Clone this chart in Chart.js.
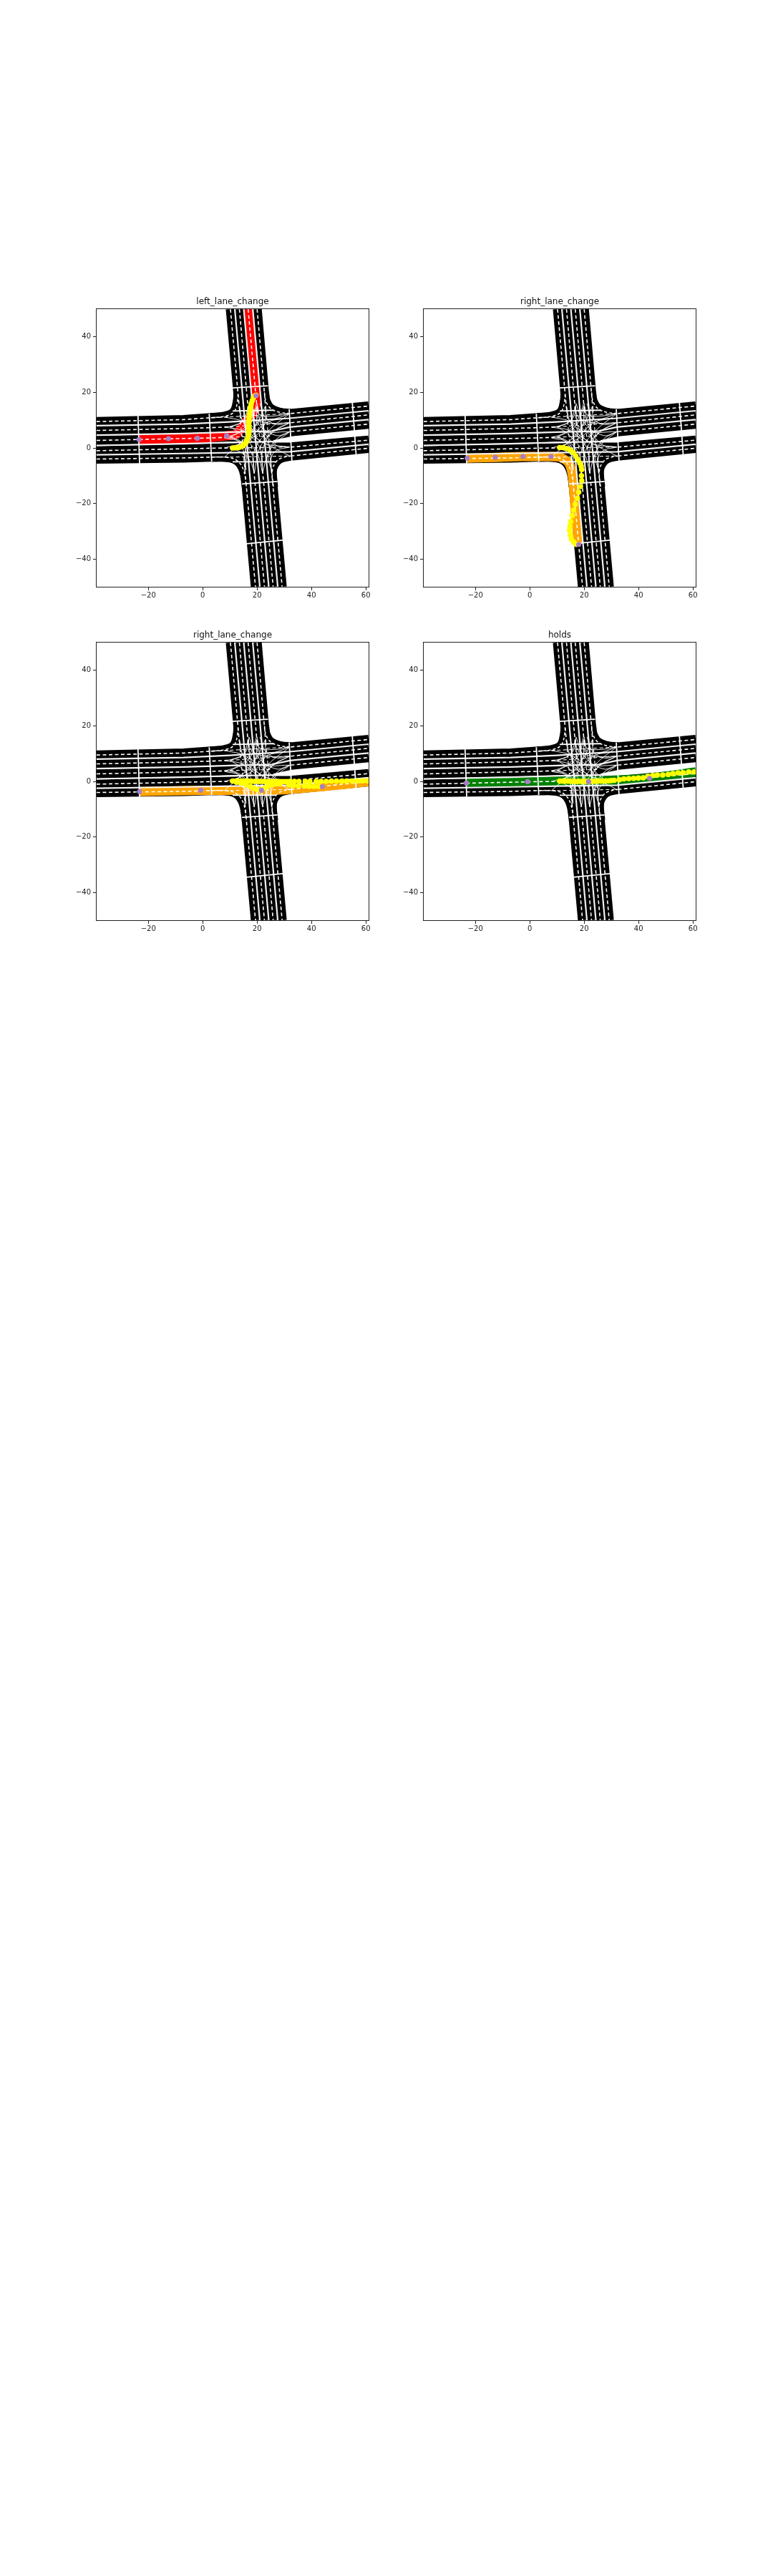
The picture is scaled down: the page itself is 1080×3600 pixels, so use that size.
<!DOCTYPE html>
<html lang="en">
<head>
  <meta charset="UTF-8" />
  <title>Intersection trajectories</title>
  <script src="https://cdn.jsdelivr.net/npm/chart.js"></script>
  <style>
    html, body { margin: 0; background: #fff; }
    body { position: relative; width: 1080px; height: 3600px; overflow: hidden; }
    canvas { position: absolute; }
  </style>
</head>
<body>
  <canvas id="panel0" width="480" height="440" style="left:85px;top:410px"></canvas>
  <canvas id="panel1" width="480" height="440" style="left:542px;top:410px"></canvas>
  <canvas id="panel2" width="480" height="440" style="left:85px;top:876px"></canvas>
  <canvas id="panel3" width="480" height="440" style="left:542px;top:876px"></canvas>

  <script>
    // Axis ticks
    const xTickValues = [-20, 0, 20, 40, 60];
    const yTickValues = [-40, -20, 0, 20, 40];
    const titles = ['left_lane_change', 'right_lane_change', 'right_lane_change', 'holds'];

    // West arm lane centres
    const west1 = [[-39, 9.5], [-7, 10.2], [3, 10.9], [10, 11.2]];
    const west2 = [[-39, 6.3], [-7, 7], [3, 7.3], [10, 7.6]];
    const west3 = [[-39, 2.7], [-7, 3.4], [3, 3.6], [10, 3.9]];
    const west4 = [[-39, -1], [-7, -0.3], [3, -0.1], [10, 0]];
    const west5 = [[-39, -4], [-7, -3.6], [3, -3.3], [10, -3.3]];

    // East arm lane centres
    const east1 = [[32.4, 12.4], [61, 15.1]];
    const east2 = [[32.4, 9.1], [61, 11.9]];
    const east3 = [[32.4, 5.85], [61, 8.6]];
    const east4 = [[32.4, 0.3], [61, 2.8]];
    const east5 = [[32.4, -2.9], [61, -0.1]];

    // North arm lane centres
    const north1 = [[10.2, 50], [13.5, 14]];
    const north2 = [[13.5, 50], [16.7, 14]];
    const north3 = [[16.7, 50], [20, 14]];
    const north4 = [[20, 50], [23.2, 14]];

    // South arm lane centres
    const south1 = [[15.5, -8], [19.4, -50]];
    const south2 = [[18.8, -8], [22.7, -50]];
    const south3 = [[22, -8], [25.9, -50]];
    const south4 = [[25.3, -8], [29.2, -50]];

    // Corner lanes
    const cornerNW = [[3, 10.9], [8, 11.4], [11.5, 13], [12.8, 17], [13, 20]];
    const cornerNE = [[22.7, 20], [23.2, 17], [25, 14.2], [28.5, 12.8], [32.4, 12.4]];
    const cornerSW = [[3, -3.3], [9, -3.4], [12.7, -4.6], [15, -8], [16.1, -14]];
    const cornerSE = [[26, -14], [25.6, -8], [27, -5], [29, -3.6], [32.4, -2.9]];

    // Solid lines between lanes
    const sepEW1 = [[-39, 8], [-7, 8.6], [10, 9.4], [32, 10.7], [61, 13.4]];
    const sepEW2 = [[-39, 4.6], [-7, 5.2], [10, 5.7], [25, 6], [32, 7.5], [61, 10.2]];
    const sepEW3 = [[-39, 0.9], [-7, 1.5], [10, 2], [26, 2.3]];
    const sepEW4 = [[-39, -2.5], [-7, -2], [10, -1.7], [32, -1.4], [61, 1.3]];
    const sepNS1 = [[11.8, 50], [21, -50]];
    const sepNS2 = [[15.1, 50], [24.3, -50]];
    const sepNS3 = [[18.4, 50], [27.6, -50]];

    // Lines across the roads
    const crossW1 = [[-23.8, 11.8], [-23.2, -5.6]];
    const crossW2 = [[2.4, 12.3], [3.3, -4.9]];
    const crossE1 = [[31.8, 14], [32.8, -4.7]];
    const crossE2 = [[55, 16.5], [56.4, -2.3]];
    const crossN1 = [[11, 21.6], [24, 22.4]];
    const crossS1 = [[14.4, -13], [27.5, -12.1]];
    const crossS2 = [[16.1, -34.5], [29.5, -33.2]];
    const innerTop = [[11, 13.3], [26, 13.6]];
    const innerBottom = [[11, -5], [27, -5]];

    // Turning paths inside the junction
    const turns = [
      [[10, 7.6], [14, 9], [16.5, 12], [17, 16]],
      [[10, 3.9], [14, 6], [18, 11], [19.8, 16]],
      [[10, 0], [14, 2], [20, 9], [23, 15]],
      [[10, 3.9], [13, 2.5], [15, -1], [16, -8]],
      [[10, 0], [13, -1], [17, -4], [19, -9]],
      [[10, 7.6], [14, 5], [20, -2], [22, -9]],
      [[32, 9.1], [27, 8.5], [23, 11], [21, 16]],
      [[32, 5.85], [27, 4.5], [20, 9], [17, 16]],
      [[32, 0.3], [27, 1], [22, 7], [20, 16]],
      [[32, 0.3], [27, -1], [25, -4], [25.3, -9]],
      [[32, 5.85], [27, 3], [24, -2], [22, -9]],
      [[32, 9.1], [26, 6], [21, 0], [19, -9]],
      [[13.5, 15], [15, 9], [19, 4], [32, -2.9]],
      [[16.7, 15], [18, 7], [22, 2], [32, 0.3]],
      [[20, 15], [19, 7], [14, 2], [8, -3.3]],
      [[23.2, 15], [22, 7], [15, 2], [8, 0]],
      [[15.5, -8], [16, -2], [14, 2], [8, 3.6]],
      [[18.8, -8], [18, -2], [13, 3], [8, 3.8]],
      [[22, -8], [21, 0], [15, 6], [8, 7.5]],
      [[25.3, -8], [24, 2], [16, 9], [8, 11.2]],
      [[25.3, -8], [24, -3], [26, 1], [32, 5.85]],
      [[22, -8], [22, -1], [25, 5], [32, 9.1]],
      [[18.8, -8], [19, -1], [24, 6], [32, 12.4]],
      [[15.5, -8], [16, 0], [22, 8], [32, 12.4]],
      [[13.5, 15], [14.5, 10], [20, 6], [32, 5.85]],
      [[16.7, 15], [18, 11], [24, 9], [32, 9.1]],
      [[20, 15], [21, 12], [26, 11.5], [32, 12.4]],
      [[16.7, 15], [15, 10], [11, 8], [8, 7.5]],
      [[20, 15], [17, 8], [12, 5], [8, 3.8]]
    ];

    // Dashes carried through the junction
    const innerDashes = [
      [[13.5, 14], [15.5, -8]], [[16.7, 14], [18.8, -8]], [[20, 14], [22, -8]], [[23.2, 14], [25.3, -8]],
      [[10, 11.2], [32.4, 12.4]], [[10, 7.6], [32.4, 9.1]], [[10, 3.9], [25, 4.3]], [[10, 0], [32.4, 0.3]], [[10, -3.3], [32.4, -2.9]]
    ];

    // Reference routes
    const route0 = [[-23.5, 3], [-12.6, 3.3], [-2, 3.5], [8.8, 4.4], [12.4, 5], [14, 6.8], [16, 9.5], [18.5, 12.5], [19.6, 16], [19.6, 18.8], [19.3, 22], [17, 50]];
    const route1 = [[-23, -3.7], [-12.7, -3.4], [-2.5, -3.1], [7.8, -3.1], [11, -3.3], [14, -5], [15.3, -8], [16, -13], [16.9, -25], [18, -34.5]];
    const route2 = [[-23.2, -3.7], [-0.7, -3.2], [21.6, -3.2], [30, -3], [44, -1.9], [61, -0.1]];
    const route3 = [[-23.3, -0.3], [-0.8, 0], [21.6, 0.1], [30, 0.4], [44, 1.2], [61, 3.4]];

    // Ground truth waypoints (purple)
    const way0 = [[-23.4, 3], [-12.6, 3.3], [-2, 3.5], [8.8, 4.4], [19.6, 18.8]];
    const way1 = [[-23, -3.7], [-12.7, -3.4], [-2.5, -3.1], [7.8, -3.1], [18, -34.8]];
    const way2 = [[-23.2, -3.7], [-0.7, -3.2], [21.6, -3.2], [44, -1.9]];
    const way3 = [[-23.3, -0.6], [-0.8, -0.1], [21.6, -0.1], [44, 1.1]];

    // Predicted points (yellow)
    const pred0 = [[11, 0], [11.8, 0], [12.6, 0.1], [13.4, 0.2], [14.2, 0.5], [14.9, 0.9], [15.5, 1.5], [16, 2.2], [16.4, 3], [16.7, 4], [16.9, 5], [17, 6], [17, 7], [17, 8], [17, 9], [17, 10], [17.1, 11], [17.2, 12], [17.3, 13], [17.5, 14], [17.7, 15], [17.9, 16], [18.2, 17], [18.6, 18], [19.1, 18.7], [19.6, 19]];
    const pred1 = [[11, 0.1], [12.3, 0.1], [13.6, -0.2], [14.9, -0.8], [15.9, -1.6], [16.9, -2.9], [17.7, -4.2], [18.4, -5.5], [18.9, -6.6], [19.1, -7.8], [19, -10], [19.1, -11.8], [18.6, -13.9], [18, -15.9], [17.5, -18.2], [16.7, -20.3], [16.1, -22.4], [15.6, -24.4], [15.1, -26.5], [14.8, -28.2], [14.6, -29.7], [14.9, -31.4], [15.3, -32.9], [16.2, -34], [17.1, -34.7]];
    const pred2a = [[11, 0.1], [12, 0.1], [13, 0.1], [14, 0.1], [15, 0.1], [16, 0.1], [17, 0.1], [18, 0], [19, 0], [20, 0], [21, 0], [22, 0], [23, -0.1], [24, -0.1], [25, -0.1], [26, -0.1], [27, -0.1], [28, -0.1], [29, -0.1], [30, -0.1], [31, -0.1], [32, 0], [33.7, 0], [35.4, 0], [37.7, 0], [39.4, 0], [41.7, 0], [43.5, 0], [45.4, 0], [47.3, 0.1], [49.2, 0.1], [51.2, 0.1], [52.9, 0.1], [54.9, 0.1], [56.9, 0.2], [58.7, 0.2], [60.6, 0.2]];
    const pred2b = [[12.4, -0.3], [14.2, -0.7], [16, -1.2], [17.6, -1.9], [18.9, -2.5], [20.2, -3], [21.5, -3.1], [22.8, -2.4], [24.2, -1.6], [25.6, -1.2], [27, -0.9], [28.5, -0.8], [31.7, -1.2], [33.4, -1.5], [35.2, -1.6], [37.4, -1.6], [39.1, -1.8], [40.9, -1.8], [42.6, -1.8]];
    const pred3 = [[11, 0.1], [12, 0.1], [13, 0.1], [14, 0.1], [15, 0], [16, 0], [17, 0], [18, 0], [19, 0], [20, 0], [21, 0], [22, 0], [23, 0], [24, 0], [25, 0.1], [26, 0.1], [27, 0.1], [28, 0.2], [29, 0.2], [30, 0.3], [31, 0.4], [32.9, 0.6], [34.6, 0.9], [36.4, 1], [38.2, 1.1], [39.9, 1.2], [41.7, 1.3], [43.4, 1.8], [45.2, 2.1], [46.9, 2.3], [48.9, 2.3], [50.9, 2.5], [52.6, 2.8], [54.5, 3.1], [56.4, 3.1], [58.4, 3.4], [60.4, 3.4]];

    const routes = [route0, route1, route2, route3];
    const routeColors = ['#ff0000', '#ffa500', '#ffa500', '#008000'];
    const ways = [way0, way1, way2, way3];
    const preds = [[pred0], [pred1], [pred2a, pred2b], [pred3]];

    const xy = pts => pts.map(p => ({ x: p[0], y: p[1] }));

    function line(pts, color, width, extra) {
      return Object.assign({
        data: xy(pts), showLine: true, pointRadius: 0, borderColor: color,
        borderWidth: width, borderCapStyle: 'butt', fill: false, clip: 0
      }, extra || {});
    }

    function dots(pts, color, r) {
      return {
        data: xy(pts), showLine: false, pointRadius: r, pointBorderWidth: 0,
        backgroundColor: color, pointBackgroundColor: color, clip: 0
      };
    }

    function buildDatasets(i) {
      const LANE = 13;
      const layers = [];
      const through = [west1.concat(east1), west2.concat([[25, 8.1]], east2), west3.concat([[25, 4.3]], east3),
        west4.concat(east4), west5.concat(east5), north1.concat(south1), north2.concat(south2),
        north3.concat(south3), north4.concat(south4)];
      through.forEach(p => layers.push(line(p, '#000', LANE)));
      [cornerNW, cornerNE, cornerSW, cornerSE].forEach(p => layers.push(line(p, '#000', LANE, { tension: 0.4 })));

      layers.push(line(routes[i], routeColors[i], LANE, { tension: 0.25 }));

      [sepEW1, sepEW2, sepEW3, sepEW4, sepNS1, sepNS2, sepNS3].forEach(p => layers.push(line(p, '#f2f2f2', 2.2)));
      turns.forEach(p => layers.push(line(p, '#fff', 0.9, { tension: 0.4 })));
      [cornerNW, cornerNE, cornerSW, cornerSE].forEach(p => layers.push(line(p, '#fff', 1.5, { tension: 0.4, borderDash: [4, 3] })));
      innerDashes.forEach(p => layers.push(line(p, '#fff', 1.1, { borderDash: [5, 3.5] })));

      [west1, west2, west3, west4, west5, east1, east2, east3, east4, east5,
        north1, north2, north3, north4, south1, south2, south3, south4].forEach(p => {
        layers.push(line(p, '#fff', 1.6, { borderDash: [5, 3.5] }));
      });

      [crossW1, crossW2, crossE1, crossE2, crossN1, crossS1, crossS2, innerTop, innerBottom].forEach(p => {
        layers.push(line(p, '#fff', 1.8));
      });

      preds[i].forEach(p => layers.push(dots(p, '#ffff00', 3.8)));
      layers.push(dots(ways[i], '#a77fc7', 3.6));
      return layers.reverse(); // chart.js paints the first dataset last
    }

    const frame = {
      id: 'frame',
      afterDraw(chart) {
        const a = chart.chartArea, c = chart.ctx;
        c.save();
        c.strokeStyle = '#222';
        c.lineWidth = 1;
        c.strokeRect(a.left - 0.5, a.top - 0.5, a.right - a.left + 1, a.bottom - a.top + 1);
        c.restore();
      }
    };

    const minus = v => String(v).replace('-', '\u2212');

    function axis(min, max, values, pad, extra) {
      return Object.assign({
        type: 'linear', min, max,
        afterBuildTicks: s => { s.ticks = values.map(v => ({ value: v })); },
        grid: { drawOnChartArea: false, drawTicks: true, tickLength: 5, color: '#222' },
        border: { display: false },
        ticks: {
          autoSkip: false, maxRotation: 0, padding: pad, color: '#222',
          font: { family: '"DejaVu Sans"', size: 10 },
          callback: minus
        }
      }, extra);
    }

    titles.forEach((title, i) => {
      new Chart(document.getElementById('panel' + i), {
        type: 'scatter',
        data: { datasets: buildDatasets(i) },
        plugins: [frame],
        options: {
          responsive: false,
          animation: false,
          events: [],
          layout: { padding: { left: 0, right: 50, top: 0, bottom: 0 } },
          plugins: {
            legend: { display: false },
            tooltip: { enabled: false },
            title: {
              display: true, text: title, color: '#111', fullSize: false,
              font: { family: '"DejaVu Sans"', size: 12, weight: 'normal', lineHeight: 1.2 },
              padding: { top: 5, bottom: 2.6 }
            }
          },
          scales: {
            x: axis(-39, 61, xTickValues, 1, { afterFit: s => { s.height = 30; } }),
            y: axis(-50, 50, yTickValues, 3, { afterFit: s => { s.width = 50; } })
          }
        }
      });
    });
  </script>
</body>
</html>
